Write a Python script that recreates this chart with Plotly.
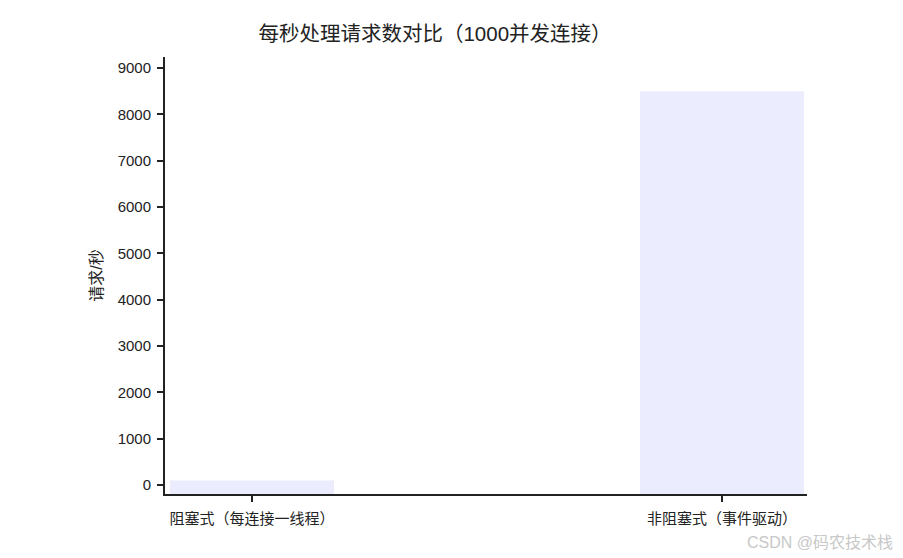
import plotly.graph_objects as go

# 数据
categories = ['阻塞式（每连接一线程）', '非阻塞式（事件驱动）']
requests_per_sec = [100, 8500]
y_ticks = [0, 1000, 2000, 3000, 4000, 5000, 6000, 7000, 8000, 9000]

Y_MIN = -194
FONT = 'Liberation Sans, Noto Sans CJK SC, sans-serif'

# 页面 body 自带 8px 外边距，所以整体尺寸缩小 16px
W, H = 887, 542

fig = go.Figure()

# 柱子从坐标轴底部画起
fig.add_trace(go.Bar(
    x=[0, 1],
    y=[v - Y_MIN for v in requests_per_sec],
    base=Y_MIN,
    width=0.349,
    marker_color='#ECECFF',
    marker_line_width=0,
    hoverinfo='skip'
))

# 水印
fig.add_annotation(
    text='CSDN @码农技术栈',
    xref='paper', yref='paper',
    x=1.0, y=0.0, xanchor='right', yanchor='middle',
    xshift=88, yshift=-56 + 8,
    showarrow=False,
    font=dict(size=16, color='#c8c8c8', family=FONT)
)

fig.update_layout(
    width=W,
    height=H,
    margin=dict(l=157, r=88, t=49, b=56, pad=0),
    plot_bgcolor='white',
    paper_bgcolor='white',
    showlegend=False,
    font=dict(family=FONT, size=15, color='#222'),
    title=dict(
        text='每秒处理请求数对比（1000并发连接）',
        x=427 / W, xanchor='center',
        y=1 - 26 / H, yanchor='middle',
        font=dict(size=20.5, color='#222', family=FONT)
    ),
    xaxis=dict(
        tickmode='array',
        tickvals=[0, 1],
        ticktext=categories,
        range=[-0.185, 1.181],
        showline=True, linecolor='#222', linewidth=2,
        ticks='outside', ticklen=6, tickwidth=2, tickcolor='#222',
        ticklabelstandoff=4,
        showgrid=False, zeroline=False,
        tickfont=dict(size=15)
    ),
    yaxis=dict(
        title=dict(text='请求/秒', font=dict(size=16), standoff=11),
        tickmode='array',
        tickvals=y_ticks,
        range=[Y_MIN, 9237],
        showline=True, linecolor='#222', linewidth=2,
        ticks='outside', ticklen=6, tickwidth=2, tickcolor='#222',
        ticklabelstandoff=3,
        showgrid=False, zeroline=False,
        tickfont=dict(size=15)
    )
)

fig.write_html('out.html')
